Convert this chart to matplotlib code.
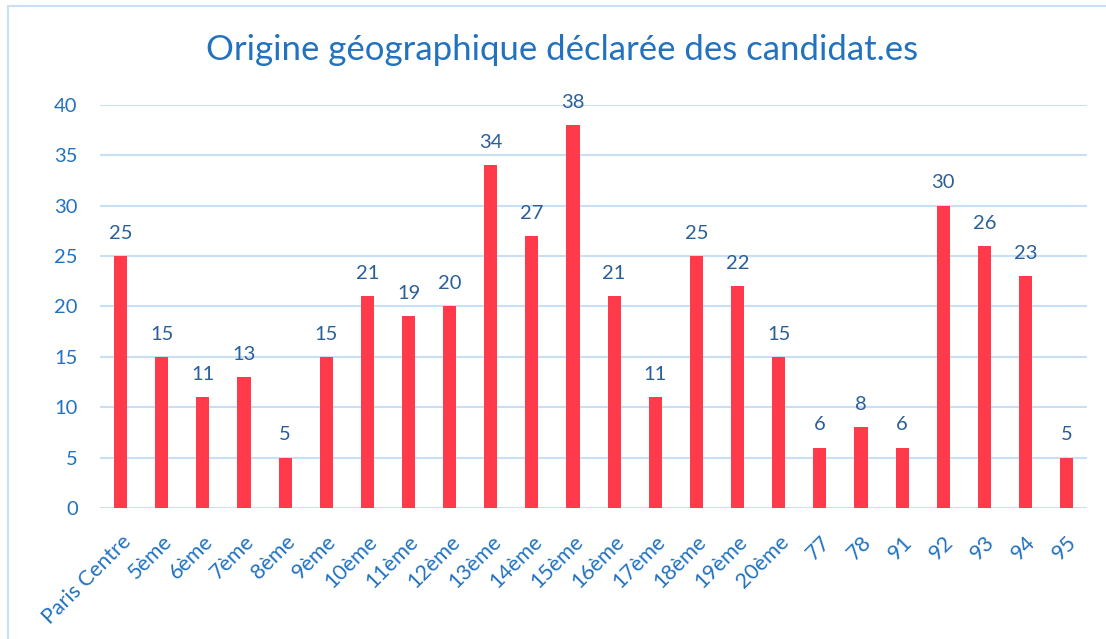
import matplotlib.pyplot as plt
from matplotlib.patches import Rectangle

# Declared geographic origin of candidates
categories = ['Paris Centre', '5ème', '6ème', '7ème', '8ème', '9ème', '10ème',
              '11ème', '12ème', '13ème', '14ème', '15ème', '16ème', '17ème',
              '18ème', '19ème', '20ème', '77', '78', '91', '92', '93', '94', '95']
counts = [25, 15, 11, 13, 5, 15, 21, 19, 20, 34, 27, 38, 21, 11, 25, 22, 15,
          6, 8, 6, 30, 26, 23, 5]
y_ticks = [0, 5, 10, 15, 20, 25, 30, 35, 40]

plt.rcParams['font.family'] = ['Lato', 'DejaVu Sans']

BAR = '#FF3B4B'
AXIS_BLUE = '#2272BE'
LABEL_BLUE = '#2A5F98'
GRID = '#C9DFF3'

fig = plt.figure(figsize=(11.06, 6.39), dpi=100)
ax = fig.add_axes([0.0904, 0.205, 0.8926, 0.631])

x = range(len(categories))
ax.bar(x, counts, width=0.32, color=BAR, zorder=3)
for i, v in zip(x, counts):
    ax.text(i, v + 1.4, str(v), ha='center', va='bottom', fontsize=14.5,
            color=LABEL_BLUE)

ax.set_xlim(-0.5, len(categories) - 0.5)
ax.set_ylim(0, 40)
ax.set_yticks(y_ticks)
ax.yaxis.grid(True, color=GRID, linewidth=1.5, zorder=0)
ax.set_axisbelow(True)
for side in ['top', 'right', 'left', 'bottom']:
    ax.spines[side].set_visible(False)
ax.tick_params(axis='both', length=0, colors=AXIS_BLUE, labelsize=14.5)
ax.tick_params(axis='y', pad=16)
ax.set_xticks(list(x))
ax.set_xticklabels(categories, rotation=45, ha='right',
                   rotation_mode='anchor', fontsize=15.5)
ax.tick_params(axis='x', pad=17)

fig.text(0.508, 0.922, 'Origine géographique déclarée des candidat.es',
         ha='center', va='center', fontsize=25, color=AXIS_BLUE)

# light frame around the chart
fig.patches.append(Rectangle((8 / 1106, -0.05), 1.1, 1 - 6 / 639 + 0.05,
                             transform=fig.transFigure, fill=False,
                             edgecolor=GRID, linewidth=1.5))

fig.savefig('out.png', dpi=100)
